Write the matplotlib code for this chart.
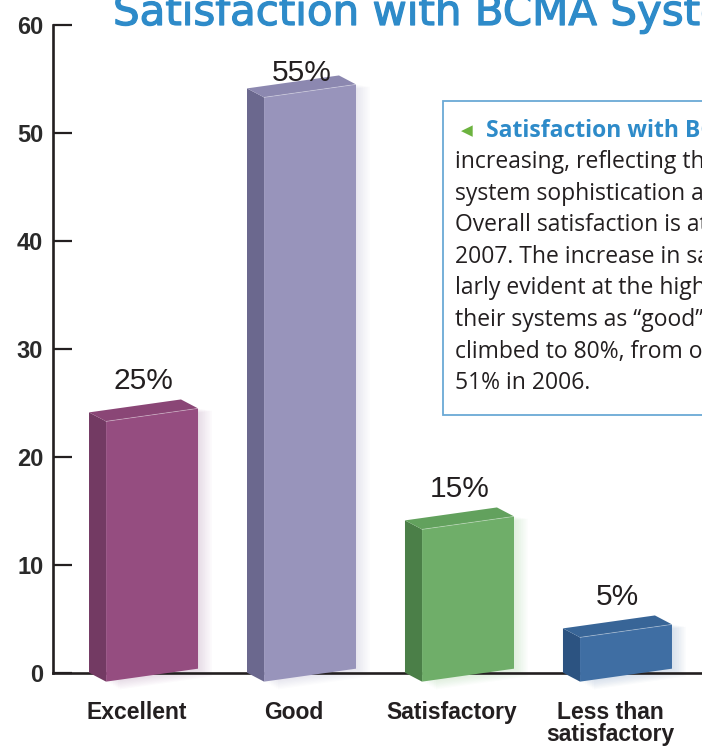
import matplotlib
matplotlib.use("Agg")
import matplotlib.pyplot as plt
import matplotlib.patheffects as pe
from matplotlib.patches import Polygon, Rectangle

# ---------------- data ----------------
categories = ["Excellent", "Good", "Satisfactory", "Less than\nsatisfactory"]
values = [25, 55, 15, 5]
value_labels = ["25%", "55%", "15%", "5%"]
y_ticks = [0, 10, 20, 30, 40, 50, 60]

title_text = "Satisfaction with BCMA Systems"
box_heading = "Satisfaction with BCMA systems"
box_lines = [
    "increasing, reflecting the growth in",
    "system sophistication and usability.",
    "Overall satisfaction is at its highest in",
    "2007. The increase in satisfaction is particu-",
    "larly evident at the high end: those rating",
    "their systems as \u201cgood\u201d or \u201cexcellent\u201d",
    "climbed to 80%, from only",
    "51% in 2006.",
]

# ---------------- style ----------------
front_cols = ["#954d80", "#9894bb", "#6fae69", "#3f6ea3"]
side_cols = ["#733a63", "#6b688e", "#4b7f48", "#2c5381"]
top_cols = ["#8a4676", "#8c88b0", "#62a15d", "#386597"]

W, H = 702, 747
fig = plt.figure(figsize=(W / 100, H / 100), dpi=100)
ax = fig.add_axes([53 / W, 74 / H, 649 / W, 648 / H])
ax.set_xlim(-0.627, 3.481)
ax.set_ylim(0, 60)

for s in ["top", "right"]:
    ax.spines[s].set_visible(False)
for s in ["left", "bottom"]:
    ax.spines[s].set_linewidth(1.9)
    ax.spines[s].set_color("#231f20")
ax.set_xticks([])
ax.set_yticks(y_ticks)
ax.tick_params(axis="y", direction="in", length=13.5, width=1.6, color="#231f20",
               pad=7, labelsize=17, labelcolor="#2a2a2a")
for lab in ax.get_yticklabels():
    lab.set_family(["Liberation Sans", "DejaVu Sans"])
    lab.set_fontweight("bold")

hw = 0.291      # half width of front face
ddx = -0.108    # depth offset x
ddy = 0.83      # depth offset y
sl = 0.6        # perspective tilt
base = -0.2

for i, v in enumerate(values):
    c = i
    t = v - 1.1
    # soft shadow
    for k in range(1, 9):
        ox = k * 0.011
        oy = k * 0.09
        sh = [(c - hw + ox, base - sl - oy), (c + hw + ox, base + sl - oy),
              (c + hw + ox, t + sl - oy * 0.3), (c - hw + ox, t - sl - oy * 0.3)]
        ax.add_patch(Polygon(sh, closed=True, facecolor=front_cols[i], alpha=0.022,
                             edgecolor="none", zorder=2, clip_on=False))
    front = [(c - hw, base - sl), (c + hw, base + sl), (c + hw, t + sl), (c - hw, t - sl)]
    side = [(c - hw + ddx, base - sl + ddy), (c - hw, base - sl), (c - hw, t - sl),
            (c - hw + ddx, t - sl + ddy)]
    top = [(c - hw, t - sl), (c + hw, t + sl), (c + hw + ddx, t + sl + ddy),
           (c - hw + ddx, t - sl + ddy)]
    ax.add_patch(Polygon(side, closed=True, facecolor=side_cols[i], edgecolor="none",
                         zorder=3, clip_on=False))
    ax.add_patch(Polygon(front, closed=True, facecolor=front_cols[i], edgecolor="none",
                         zorder=3, clip_on=False))
    ax.add_patch(Polygon(top, closed=True, facecolor=top_cols[i], edgecolor="none",
                         zorder=3, clip_on=False))
    ax.plot([top[0][0], top[1][0]], [top[0][1], top[1][1]], color="white", lw=0.6,
            alpha=0.35, zorder=4, clip_on=False)
    # value label
    ax.text(c + ddx / 2, min(v + 2.0, 55.6), value_labels[i], ha="center", va="center",
            fontsize=21.5, color="#231f20", family=["Liberation Sans", "DejaVu Sans"],
            zorder=5, clip_on=False)
    # category label
    ax.text(c - 0.1, -2.55, categories[i], ha="center", va="top", fontsize=16.5,
            fontweight="bold", color="#231f20", linespacing=0.95,
            family=["Liberation Sans Narrow", "Liberation Sans", "DejaVu Sans"],
            clip_on=False)

# ---------------- title ----------------
fig.text(113 / W, 1 - 25 / H, title_text, ha="left", va="baseline", fontsize=30.2,
         color="#2e8bc9", family=["DejaVu Sans"],
         path_effects=[pe.withStroke(linewidth=0.9, foreground="#2e8bc9")])

# ---------------- text box ----------------
box_x0, box_y0, box_x1, box_y1 = 443, 101, 720, 415
fig.patches.append(Rectangle((box_x0 / W, 1 - box_y1 / H), (box_x1 - box_x0) / W,
                             (box_y1 - box_y0) / H, transform=fig.transFigure,
                             facecolor="white", edgecolor="#6aa9d6", lw=1.3, zorder=6))
fig.text(467 / W, 1 - 131 / H, "\u25c0", ha="center", va="center", fontsize=11,
         color="#6cb33f", family=["DejaVu Sans"], zorder=7)
fig.text(486 / W, 1 - 131 / H, box_heading, ha="left", va="center", fontsize=16.5,
         fontweight="bold", color="#2e8bc9", family=["Open Sans", "DejaVu Sans"], zorder=7)
for j, line in enumerate(box_lines):
    fig.text(455 / W, 1 - (162 + j * 31.6) / H, line, ha="left", va="center",
             fontsize=16.5, color="#231f20", family=["Open Sans", "DejaVu Sans"], zorder=7)

fig.savefig("out.png", dpi=100)
